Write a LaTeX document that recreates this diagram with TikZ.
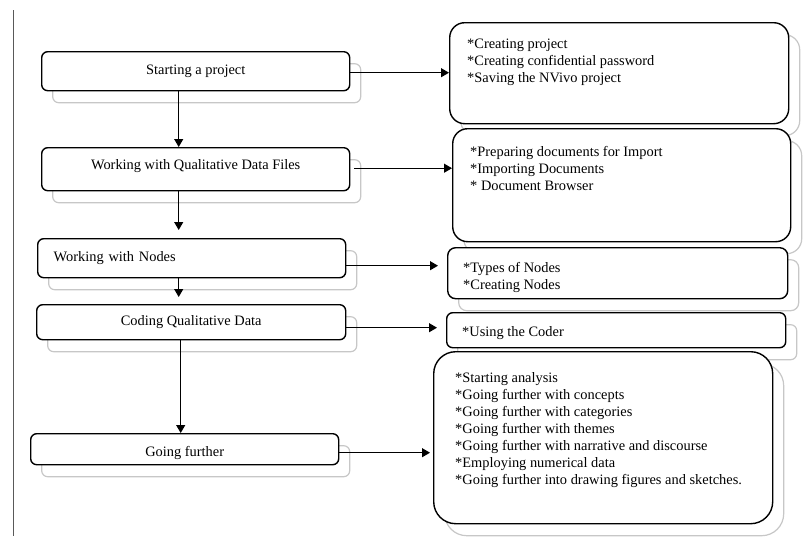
\documentclass[tikz,border=0pt]{standalone}
\usepackage{fontspec}
\setmainfont{Liberation Serif}
\usetikzlibrary{arrows.meta,shadows}

\begin{document}
\begin{tikzpicture}[x=1pt,y=-1pt,
	box/.style={draw=black,line width=1.4pt,fill=white,rounded corners=6pt,anchor=north west,inner sep=0pt,
		font=\fontsize{14.4}{17}\selectfont,
		copy shadow={shadow xshift=11pt,shadow yshift=-12pt,draw=black!22,line width=1.2pt,fill=white}},
	items/.style={anchor=north west,align=left,inner sep=0pt,font=\fontsize{14.4}{17}\selectfont},
	arr/.style={-{Triangle[length=8pt,width=9pt]},line width=1.2pt}]
	\useasboundingbox (0,0) rectangle (805,536);
	\draw[black!65,line width=1pt] (13,10) -- (13,536);
	
	\node[box,minimum width=308pt,minimum height=39pt] (1) at (41,51) {Starting a project};
	\node[box,minimum width=308pt,minimum height=43pt,text height=10pt,text depth=10pt] (2) at (41,147) {Working with Qualitative Data Files};
	\node[box,minimum width=308pt,minimum height=39pt,text width=276pt,inner xsep=16pt,align=left] (3) at (37,238) {Working with Nodes};
	\node[box,minimum width=309pt,minimum height=35pt] (4) at (36,304) {Coding Qualitative Data};
	\node[box,minimum width=308pt,minimum height=31pt,text height=18pt,text depth=4pt] (5) at (30,433) {Going further};
	
	\node[box,rounded corners=15pt,minimum width=339pt,minimum height=101pt] (6) at (449,22) {};
	\node[items] (6t) at (467,39) {*Creating project\\*Creating confidential password\\*Saving the NVivo project};
	\node[box,rounded corners=15pt,minimum width=338pt,minimum height=113pt] (7) at (452,128) {};
	\node[items] (7t) at (470,146) {*Preparing documents for Import\\*Importing Documents\\* Document Browser};
	\node[box,rounded corners=8pt,minimum width=340pt,minimum height=51pt] (8) at (447,247) {};
	\node[items] (8t) at (463,262) {*Types of Nodes\\*Creating Nodes};
	\node[box,minimum width=339pt,minimum height=35pt] (9) at (446,312) {};
	\node[items] (9t) at (462,326) {*Using the Coder};
	\node[box,rounded corners=22pt,minimum width=339pt,minimum height=172pt] (10) at (433,351) {};
	\node[items] (10t) at (455,372) {*Starting analysis\\*Going further with concepts\\*Going further with categories\\*Going further with themes\\*Going further with narrative and discourse\\*Employing numerical data\\*Going further into drawing figures and sketches.};
	
	\path [arr] ([xshift=-17]1.south) edge ([xshift=-17]1.south |- 2.north);
	\path [arr] ([xshift=-17]2.south) edge[shorten >=8pt] ([xshift=-17]2.south |- 3.north);
	\path [arr] ([xshift=-13]3.south) edge[shorten >=7pt] ([xshift=-13]3.south |- 4.north);
	\path [arr] ([xshift=-10.5]4.south) edge ([xshift=-10.5]4.south |- 5.north);
	
	\path [arr] ([yshift=-1.5]1.east) edge ([yshift=-1.5]1.east -| 6.west);
	\path [arr] ([xshift=4,yshift=1]2.east) edge ([yshift=1]2.east -| 7.west);
	\path [arr] ([yshift=-7.5]3.east) edge[shorten >=9pt] ([yshift=-7.5]3.east -| 8.west);
	\path [arr] ([yshift=-5.5]4.east) edge[shorten >=9pt] ([yshift=-5.5]4.east -| 9.west);
	\path [arr] ([yshift=-3.5]5.east) edge[shorten >=3pt] ([yshift=-3.5]5.east -| 10.west);
\end{tikzpicture}
\end{document}
